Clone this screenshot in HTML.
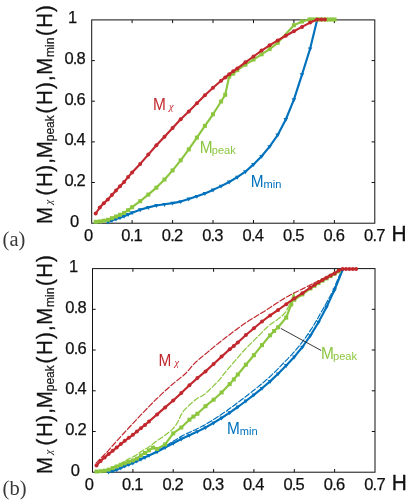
<!DOCTYPE html>
<html><head><meta charset="utf-8"><title>Magnetization curves</title>
<style>
html,body{margin:0;padding:0;background:#fff;}
body{width:409px;height:501px;overflow:hidden;font-family:"Liberation Sans",sans-serif;}
svg{display:block;will-change:transform;}
text{font-family:"Liberation Sans",sans-serif;fill:#111;}
.tk{font-size:16.5px;letter-spacing:-0.8px;stroke:#111;stroke-width:0.25px;}
.hh{font-size:22px;stroke:#111;stroke-width:0.3px;}
.yl{font-size:22px;stroke:#111;stroke-width:0.35px;}
.sub{font-size:12px;stroke:#111;stroke-width:0.2px;}
.cl{font-size:17px;}
.cs{font-size:11.3px;}
.chi{font-family:"Liberation Serif",serif;font-style:italic;}
.pl{font-family:"Liberation Serif",serif;font-size:20.5px;fill:#383838;}
</style></head>
<body>
<svg width="409" height="501" viewBox="0 0 409 501">
<rect width="409" height="501" fill="#fff"/>
<rect x="91.7" y="19.9" width="283.1" height="203.3" fill="none" stroke="#111" stroke-width="1"/>
<path d="M132.1 223.2v-3.2M132.1 19.9v3.2M172.6 223.2v-3.2M172.6 19.9v3.2M213.0 223.2v-3.2M213.0 19.9v3.2M253.5 223.2v-3.2M253.5 19.9v3.2M293.9 223.2v-3.2M293.9 19.9v3.2M334.4 223.2v-3.2M334.4 19.9v3.2M91.7 182.5h3.2M374.8 182.5h-3.2M91.7 141.9h3.2M374.8 141.9h-3.2M91.7 101.2h3.2M374.8 101.2h-3.2M91.7 60.6h3.2M374.8 60.6h-3.2" stroke="#111" stroke-width="1" fill="none"/>
<rect x="92.5" y="268.6" width="282.5" height="203.6" fill="none" stroke="#111" stroke-width="1"/>
<path d="M132.9 472.2v-3.2M132.9 268.6v3.2M173.2 472.2v-3.2M173.2 268.6v3.2M213.6 472.2v-3.2M213.6 268.6v3.2M253.9 472.2v-3.2M253.9 268.6v3.2M294.3 472.2v-3.2M294.3 268.6v3.2M334.6 472.2v-3.2M334.6 268.6v3.2M92.5 431.5h3.2M375.0 431.5h-3.2M92.5 390.8h3.2M375.0 390.8h-3.2M92.5 350.0h3.2M375.0 350.0h-3.2M92.5 309.3h3.2M375.0 309.3h-3.2" stroke="#111" stroke-width="1" fill="none"/>
<polyline points="107.9,222.1 111.9,220.6 116.0,219.1 120.0,217.7 124.1,216.2 128.1,214.4 132.1,212.7 140.2,209.7 148.3,207.4 156.4,205.5 164.5,204.3 172.6,203.1 180.7,201.6 188.8,198.9 196.9,196.3 204.9,193.4 213.0,189.9 221.1,186.1 229.2,182.0 237.3,177.1 245.4,171.7 253.5,164.4 261.6,156.3 269.6,146.6 277.7,135.0 285.8,119.5 293.9,99.7 302.0,74.6 310.1,48.8 317.1,19.9" fill="none" stroke="#0071bc" stroke-width="2.15" stroke-linejoin="round" stroke-linecap="round"/>
<path d="M105.6 220.7L110.2 220.7L107.9 224.6Z" fill="#0071bc"/><path d="M109.6 219.2L114.2 219.2L111.9 223.1Z" fill="#0071bc"/><path d="M113.7 217.7L118.3 217.7L116.0 221.6Z" fill="#0071bc"/><path d="M117.7 216.3L122.3 216.3L120.0 220.2Z" fill="#0071bc"/><path d="M121.8 214.8L126.4 214.8L124.1 218.7Z" fill="#0071bc"/><path d="M125.8 213.0L130.4 213.0L128.1 216.9Z" fill="#0071bc"/><path d="M129.8 211.3L134.4 211.3L132.1 215.2Z" fill="#0071bc"/><path d="M137.9 208.3L142.5 208.3L140.2 212.2Z" fill="#0071bc"/><path d="M146.0 206.0L150.6 206.0L148.3 209.9Z" fill="#0071bc"/><path d="M154.1 204.1L158.7 204.1L156.4 208.1Z" fill="#0071bc"/><path d="M162.2 203.0L166.8 203.0L164.5 206.9Z" fill="#0071bc"/><path d="M170.3 201.7L174.9 201.7L172.6 205.6Z" fill="#0071bc"/><path d="M178.4 200.2L183.0 200.2L180.7 204.1Z" fill="#0071bc"/><path d="M186.5 197.6L191.1 197.6L188.8 201.5Z" fill="#0071bc"/><path d="M194.6 194.9L199.2 194.9L196.9 198.8Z" fill="#0071bc"/><path d="M202.6 192.0L207.2 192.0L204.9 195.9Z" fill="#0071bc"/><path d="M210.7 188.5L215.3 188.5L213.0 192.4Z" fill="#0071bc"/><path d="M218.8 184.7L223.4 184.7L221.1 188.6Z" fill="#0071bc"/><path d="M226.9 180.6L231.5 180.6L229.2 184.5Z" fill="#0071bc"/><path d="M235.0 175.7L239.6 175.7L237.3 179.7Z" fill="#0071bc"/><path d="M243.1 170.3L247.7 170.3L245.4 174.2Z" fill="#0071bc"/><path d="M251.2 163.0L255.8 163.0L253.5 166.9Z" fill="#0071bc"/><path d="M259.3 154.9L263.9 154.9L261.6 158.8Z" fill="#0071bc"/><path d="M267.3 145.2L271.9 145.2L269.6 149.1Z" fill="#0071bc"/><path d="M275.4 133.6L280.0 133.6L277.7 137.6Z" fill="#0071bc"/><path d="M283.5 118.1L288.1 118.1L285.8 122.0Z" fill="#0071bc"/><path d="M291.6 98.3L296.2 98.3L293.9 102.2Z" fill="#0071bc"/><path d="M299.7 73.2L304.3 73.2L302.0 77.1Z" fill="#0071bc"/><path d="M307.8 47.4L312.4 47.4L310.1 51.3Z" fill="#0071bc"/><path d="M314.8 18.5L319.4 18.5L317.1 22.4Z" fill="#0071bc"/>
<polyline points="95.7,221.8 99.8,221.4 103.8,220.7 107.9,219.8 111.9,218.2 116.0,216.5 120.0,214.8 124.1,212.9 128.1,210.2 132.1,207.2 140.2,201.2 148.3,194.6 156.4,187.6 164.5,179.5 172.6,170.4 180.7,160.3 188.8,149.4 196.9,137.6 204.9,125.9 213.0,114.3 221.1,101.5 225.2,94.8 229.2,76.6 233.2,73.7 237.3,70.2 245.4,64.7 253.5,59.6 261.6,54.3 269.6,49.1 277.7,42.8 293.9,25.2 302.0,21.5 309.4,19.5 312.2,19.5 315.0,19.5 317.8,19.5 320.6,19.5 323.4,19.5 326.2,19.5 329.0,19.5 331.8,19.5 334.6,19.5" fill="none" stroke="#8cc63f" stroke-width="2.15" stroke-linejoin="round" stroke-linecap="round"/>
<rect x="93.7" y="219.8" width="4.0" height="4.0" fill="#8cc63f"/><rect x="97.8" y="219.4" width="4.0" height="4.0" fill="#8cc63f"/><rect x="101.8" y="218.7" width="4.0" height="4.0" fill="#8cc63f"/><rect x="105.9" y="217.8" width="4.0" height="4.0" fill="#8cc63f"/><rect x="109.9" y="216.2" width="4.0" height="4.0" fill="#8cc63f"/><rect x="114.0" y="214.5" width="4.0" height="4.0" fill="#8cc63f"/><rect x="118.0" y="212.8" width="4.0" height="4.0" fill="#8cc63f"/><rect x="122.1" y="210.9" width="4.0" height="4.0" fill="#8cc63f"/><rect x="126.1" y="208.2" width="4.0" height="4.0" fill="#8cc63f"/><rect x="130.1" y="205.2" width="4.0" height="4.0" fill="#8cc63f"/><rect x="138.2" y="199.2" width="4.0" height="4.0" fill="#8cc63f"/><rect x="146.3" y="192.6" width="4.0" height="4.0" fill="#8cc63f"/><rect x="154.4" y="185.6" width="4.0" height="4.0" fill="#8cc63f"/><rect x="162.5" y="177.5" width="4.0" height="4.0" fill="#8cc63f"/><rect x="170.6" y="168.4" width="4.0" height="4.0" fill="#8cc63f"/><rect x="178.7" y="158.3" width="4.0" height="4.0" fill="#8cc63f"/><rect x="186.8" y="147.4" width="4.0" height="4.0" fill="#8cc63f"/><rect x="194.9" y="135.6" width="4.0" height="4.0" fill="#8cc63f"/><rect x="202.9" y="123.9" width="4.0" height="4.0" fill="#8cc63f"/><rect x="211.0" y="112.3" width="4.0" height="4.0" fill="#8cc63f"/><rect x="219.1" y="99.5" width="4.0" height="4.0" fill="#8cc63f"/><rect x="223.2" y="92.8" width="4.0" height="4.0" fill="#8cc63f"/><rect x="227.2" y="74.6" width="4.0" height="4.0" fill="#8cc63f"/><rect x="231.2" y="71.7" width="4.0" height="4.0" fill="#8cc63f"/><rect x="235.3" y="68.2" width="4.0" height="4.0" fill="#8cc63f"/><rect x="243.4" y="62.7" width="4.0" height="4.0" fill="#8cc63f"/><rect x="251.5" y="57.6" width="4.0" height="4.0" fill="#8cc63f"/><rect x="259.6" y="52.3" width="4.0" height="4.0" fill="#8cc63f"/><rect x="267.6" y="47.1" width="4.0" height="4.0" fill="#8cc63f"/><rect x="275.7" y="40.8" width="4.0" height="4.0" fill="#8cc63f"/><rect x="291.9" y="23.2" width="4.0" height="4.0" fill="#8cc63f"/><rect x="300.0" y="19.5" width="4.0" height="4.0" fill="#8cc63f"/><rect x="307.4" y="17.5" width="4.0" height="4.0" fill="#8cc63f"/><rect x="310.2" y="17.5" width="4.0" height="4.0" fill="#8cc63f"/><rect x="313.0" y="17.5" width="4.0" height="4.0" fill="#8cc63f"/><rect x="315.8" y="17.5" width="4.0" height="4.0" fill="#8cc63f"/><rect x="318.6" y="17.5" width="4.0" height="4.0" fill="#8cc63f"/><rect x="321.4" y="17.5" width="4.0" height="4.0" fill="#8cc63f"/><rect x="324.2" y="17.5" width="4.0" height="4.0" fill="#8cc63f"/><rect x="327.0" y="17.5" width="4.0" height="4.0" fill="#8cc63f"/><rect x="329.8" y="17.5" width="4.0" height="4.0" fill="#8cc63f"/><rect x="332.6" y="17.5" width="4.0" height="4.0" fill="#8cc63f"/>
<polyline points="95.7,213.5 99.8,207.5 103.8,203.3 107.9,199.4 111.9,195.0 116.0,190.6 120.0,186.3 124.1,181.9 128.1,177.1 132.1,172.4 140.2,163.9 148.3,154.6 156.4,145.2 164.5,136.7 172.6,127.9 180.7,119.2 188.8,111.4 196.9,103.3 204.9,95.2 213.0,87.7 221.1,80.8 225.2,77.4 229.2,74.2 233.2,71.3 237.3,68.4 245.4,62.3 253.5,56.5 261.6,50.6 269.6,45.3 277.7,40.4 285.8,35.8 293.9,31.3 302.0,26.9 310.1,22.6 317.1,19.5 321.3,19.5 325.0,19.5" fill="none" stroke="#c1272d" stroke-width="2.15" stroke-linejoin="round" stroke-linecap="round"/>
<circle cx="95.7" cy="213.5" r="2.0" fill="#c1272d"/><circle cx="99.8" cy="207.5" r="2.0" fill="#c1272d"/><circle cx="103.8" cy="203.3" r="2.0" fill="#c1272d"/><circle cx="107.9" cy="199.4" r="2.0" fill="#c1272d"/><circle cx="111.9" cy="195.0" r="2.0" fill="#c1272d"/><circle cx="116.0" cy="190.6" r="2.0" fill="#c1272d"/><circle cx="120.0" cy="186.3" r="2.0" fill="#c1272d"/><circle cx="124.1" cy="181.9" r="2.0" fill="#c1272d"/><circle cx="128.1" cy="177.1" r="2.0" fill="#c1272d"/><circle cx="132.1" cy="172.4" r="2.0" fill="#c1272d"/><circle cx="140.2" cy="163.9" r="2.0" fill="#c1272d"/><circle cx="148.3" cy="154.6" r="2.0" fill="#c1272d"/><circle cx="156.4" cy="145.2" r="2.0" fill="#c1272d"/><circle cx="164.5" cy="136.7" r="2.0" fill="#c1272d"/><circle cx="172.6" cy="127.9" r="2.0" fill="#c1272d"/><circle cx="180.7" cy="119.2" r="2.0" fill="#c1272d"/><circle cx="188.8" cy="111.4" r="2.0" fill="#c1272d"/><circle cx="196.9" cy="103.3" r="2.0" fill="#c1272d"/><circle cx="204.9" cy="95.2" r="2.0" fill="#c1272d"/><circle cx="213.0" cy="87.7" r="2.0" fill="#c1272d"/><circle cx="221.1" cy="80.8" r="2.0" fill="#c1272d"/><circle cx="225.2" cy="77.4" r="2.0" fill="#c1272d"/><circle cx="229.2" cy="74.2" r="2.0" fill="#c1272d"/><circle cx="233.2" cy="71.3" r="2.0" fill="#c1272d"/><circle cx="237.3" cy="68.4" r="2.0" fill="#c1272d"/><circle cx="245.4" cy="62.3" r="2.0" fill="#c1272d"/><circle cx="253.5" cy="56.5" r="2.0" fill="#c1272d"/><circle cx="261.6" cy="50.6" r="2.0" fill="#c1272d"/><circle cx="269.6" cy="45.3" r="2.0" fill="#c1272d"/><circle cx="277.7" cy="40.4" r="2.0" fill="#c1272d"/><circle cx="285.8" cy="35.8" r="2.0" fill="#c1272d"/><circle cx="293.9" cy="31.3" r="2.0" fill="#c1272d"/><circle cx="302.0" cy="26.9" r="2.0" fill="#c1272d"/><circle cx="310.1" cy="22.6" r="2.0" fill="#c1272d"/><circle cx="317.1" cy="19.5" r="2.0" fill="#c1272d"/><circle cx="321.3" cy="19.5" r="2.0" fill="#c1272d"/><circle cx="325.0" cy="19.5" r="2.0" fill="#c1272d"/>
<polyline points="112.0,467.5 115.0,466.1 118.0,464.7 121.0,463.2 124.0,461.6 127.0,459.9 130.0,458.3 133.0,456.9 136.0,455.3 139.0,453.1 142.0,451.1 145.0,449.3 148.0,447.5 151.0,445.4 154.0,443.1 157.0,440.8 160.0,438.7 163.0,436.7 166.0,434.5 169.0,432.2 172.0,429.6 175.0,426.5 178.0,421.6 181.0,415.0 184.0,410.4 187.0,407.3 190.0,404.5 193.0,401.8 196.0,399.3 199.0,397.3 202.0,396.0 205.0,394.0 208.0,391.2 211.0,388.4 214.0,385.3 217.0,382.4 220.0,379.2 223.0,375.2 226.0,371.4 229.0,367.9 232.0,364.3 235.0,360.8 238.0,357.3 241.0,353.8 244.0,350.5 247.0,347.4 250.0,344.3 253.0,341.3 256.0,338.3 259.0,335.3 262.0,332.3 265.0,329.2 268.0,326.3 271.0,323.9 274.0,321.9 277.0,319.9 280.0,317.5 283.0,315.0 286.0,311.6 289.0,305.8 292.0,298.5 293.9,293.4" fill="none" stroke="#8cc63f" stroke-width="1.2" stroke-linejoin="round" stroke-linecap="round" stroke-dasharray="5.5 2.2"/>
<polyline points="96.1,463.2 99.1,460.0 102.1,456.9 105.1,453.8 108.1,450.8 111.1,447.4 114.1,444.0 117.1,440.6 120.1,437.3 123.1,434.0 126.1,430.8 129.1,427.5 132.1,424.3 135.1,421.1 138.1,417.9 141.1,414.7 144.1,411.6 147.1,408.5 150.1,405.4 153.1,402.3 156.1,399.3 159.1,396.5 162.1,393.6 165.1,390.9 168.1,388.2 171.1,385.5 174.1,382.9 177.1,380.5 180.1,378.1 183.1,375.7 186.1,373.0 189.1,369.6 192.1,365.9 195.1,362.8 198.1,360.1 201.1,357.5 204.1,355.1 207.1,352.6 210.1,350.1 213.1,347.6 216.1,345.1 219.1,342.7 222.1,340.4 225.1,338.0 228.1,335.7 231.1,333.4 234.1,331.2 237.1,329.0 240.1,326.8 243.1,324.6 246.1,322.6 249.1,320.6 252.1,318.7 255.1,316.9 258.1,315.1 261.1,313.2 264.1,311.4 267.1,309.5 270.1,307.6 273.1,305.6 276.1,303.6 279.1,301.6 282.1,299.7 285.1,297.9 288.1,296.2 291.1,294.5 294.1,293.0 297.1,291.5 300.1,290.1 303.1,288.6 306.1,287.1 309.1,285.6 312.1,284.0 315.1,282.5 318.1,281.0 321.1,279.5 324.1,278.0 327.1,276.5 330.1,274.9 333.1,273.4 336.1,271.8 339.1,270.2 341.3,269.0" fill="none" stroke="#c1272d" stroke-width="1.2" stroke-linejoin="round" stroke-linecap="round" stroke-dasharray="5.5 2.2"/>
<polyline points="108.6,471.9 112.7,471.0 116.7,469.7 120.8,467.9 124.8,466.1 128.8,464.5 132.9,462.9 136.9,461.1 140.9,459.2 145.0,457.3 149.0,455.5 157.1,451.7 165.1,447.5 173.2,443.2 181.3,439.0 189.4,435.3 197.4,431.6 205.5,427.5 213.6,422.9 221.6,418.0 229.7,412.7 237.8,407.0 245.9,401.0 253.9,394.8 262.0,388.3 270.1,381.4 278.1,373.8 286.2,365.5 294.3,356.9 302.4,347.0 310.4,335.6 318.5,322.2 326.6,306.9 334.6,289.9 342.6,269.8" fill="none" stroke="#0071bc" stroke-width="2.15" stroke-linejoin="round" stroke-linecap="round"/>
<path d="M106.3 470.6L110.9 470.6L108.6 474.5Z" fill="#0071bc"/><path d="M110.4 469.6L115.0 469.6L112.7 473.5Z" fill="#0071bc"/><path d="M114.4 468.3L119.0 468.3L116.7 472.2Z" fill="#0071bc"/><path d="M118.5 466.6L123.0 466.6L120.8 470.5Z" fill="#0071bc"/><path d="M122.5 464.7L127.1 464.7L124.8 468.6Z" fill="#0071bc"/><path d="M126.5 463.1L131.1 463.1L128.8 467.0Z" fill="#0071bc"/><path d="M130.6 461.5L135.2 461.5L132.9 465.4Z" fill="#0071bc"/><path d="M134.6 459.7L139.2 459.7L136.9 463.6Z" fill="#0071bc"/><path d="M138.6 457.8L143.2 457.8L140.9 461.7Z" fill="#0071bc"/><path d="M142.7 455.9L147.3 455.9L145.0 459.9Z" fill="#0071bc"/><path d="M146.7 454.1L151.3 454.1L149.0 458.0Z" fill="#0071bc"/><path d="M154.8 450.3L159.4 450.3L157.1 454.2Z" fill="#0071bc"/><path d="M162.8 446.1L167.4 446.1L165.1 450.0Z" fill="#0071bc"/><path d="M170.9 441.9L175.5 441.9L173.2 445.8Z" fill="#0071bc"/><path d="M179.0 437.6L183.6 437.6L181.3 441.5Z" fill="#0071bc"/><path d="M187.1 433.9L191.7 433.9L189.4 437.8Z" fill="#0071bc"/><path d="M195.1 430.2L199.7 430.2L197.4 434.1Z" fill="#0071bc"/><path d="M203.2 426.2L207.8 426.2L205.5 430.1Z" fill="#0071bc"/><path d="M211.3 421.5L215.9 421.5L213.6 425.4Z" fill="#0071bc"/><path d="M219.3 416.6L223.9 416.6L221.6 420.5Z" fill="#0071bc"/><path d="M227.4 411.3L232.0 411.3L229.7 415.2Z" fill="#0071bc"/><path d="M235.5 405.6L240.1 405.6L237.8 409.5Z" fill="#0071bc"/><path d="M243.6 399.6L248.2 399.6L245.9 403.5Z" fill="#0071bc"/><path d="M251.6 393.4L256.2 393.4L253.9 397.3Z" fill="#0071bc"/><path d="M259.7 386.9L264.3 386.9L262.0 390.8Z" fill="#0071bc"/><path d="M267.8 380.0L272.4 380.0L270.1 383.9Z" fill="#0071bc"/><path d="M275.8 372.4L280.4 372.4L278.1 376.3Z" fill="#0071bc"/><path d="M283.9 364.1L288.5 364.1L286.2 368.0Z" fill="#0071bc"/><path d="M292.0 355.5L296.6 355.5L294.3 359.4Z" fill="#0071bc"/><path d="M300.1 345.7L304.7 345.7L302.4 349.6Z" fill="#0071bc"/><path d="M308.1 334.2L312.7 334.2L310.4 338.1Z" fill="#0071bc"/><path d="M316.2 320.8L320.8 320.8L318.5 324.7Z" fill="#0071bc"/><path d="M324.3 305.5L328.9 305.5L326.6 309.5Z" fill="#0071bc"/><path d="M332.3 288.5L336.9 288.5L334.6 292.4Z" fill="#0071bc"/><path d="M340.3 268.4L344.9 268.4L342.6 272.3Z" fill="#0071bc"/>
<polyline points="146.3,456.7 148.3,455.8 150.3,454.8 152.2,453.8 154.2,452.8 156.1,451.7 158.0,450.6 160.0,449.4 161.9,448.2 163.8,447.1 165.8,445.9 167.7,444.7 169.6,443.5 171.6,442.3 173.5,441.1 175.4,439.9 177.4,438.7 179.3,437.5 181.3,436.4 183.3,435.3 185.3,434.3 187.3,433.4 189.2,432.5 191.2,431.6 193.2,430.6 195.2,429.7 197.2,428.7 199.1,427.8 201.1,426.8 203.0,425.7 205.0,424.7 206.9,423.5 208.9,422.4 210.8,421.2 212.8,420.0 214.8,418.7 216.7,417.5 218.7,416.2 220.6,414.9 222.6,413.6 224.5,412.3 226.5,411.0 228.4,409.6 230.4,408.1 232.3,406.7 234.3,405.2 236.2,403.7 238.2,402.2 240.2,400.8 242.1,399.3 244.1,397.8 246.1,396.3 248.1,394.7 250.1,393.2 252.1,391.6 254.1,390.1 256.0,388.5 258.0,386.9 260.0,385.2 262.0,383.6 264.0,381.9 265.9,380.2 267.9,378.5 269.9,376.7 271.8,374.9 273.8,373.0 275.7,371.1 277.7,369.1 279.7,367.0 281.7,364.9 283.7,362.9 285.7,360.8 287.7,358.8 289.7,356.7 291.7,354.6 293.7,352.4 295.7,350.1 297.8,347.7 299.8,345.2 301.8,342.6 303.8,340.0 305.9,337.2 307.9,334.2 309.9,331.2 312.0,328.0 314.0,324.8 316.0,321.3 318.1,317.7 320.1,314.0 322.3,310.3 324.5,306.5 326.6,302.6 328.8,298.6 331.0,294.6 333.2,290.3 335.4,285.1 337.6,279.7 339.8,274.8 342.0,270.3" fill="none" stroke="#0071bc" stroke-width="1.2" stroke-linejoin="round" stroke-linecap="round" stroke-dasharray="5.5 2.2"/>
<polyline points="96.5,471.5 100.6,471.2 104.6,470.7 108.6,469.6 112.7,468.1 116.7,466.5 120.8,464.8 124.8,463.3 128.8,461.8 132.9,460.4 136.9,458.6 140.9,455.4 145.0,453.0 149.0,450.3 153.0,447.6 157.1,449.0 165.1,444.4 173.2,433.4 181.3,427.5 189.4,419.7 193.4,416.6 197.4,413.8 205.5,406.2 213.6,399.7 221.6,392.5 229.7,384.1 233.8,379.4 237.8,374.5 245.9,364.7 253.9,355.2 262.0,345.1 270.1,335.3 274.1,331.0 278.1,327.3 286.2,317.6 291.3,304.4 293.7,294.8 294.3,299.8 302.4,294.4 310.4,288.5 314.5,285.8 318.5,283.1 322.5,280.7 326.6,278.4 330.6,276.1 334.6,273.8 338.7,271.4" fill="none" stroke="#8cc63f" stroke-width="2.15" stroke-linejoin="round" stroke-linecap="round"/>
<rect x="94.5" y="469.5" width="4.0" height="4.0" fill="#8cc63f"/><rect x="98.6" y="469.2" width="4.0" height="4.0" fill="#8cc63f"/><rect x="102.6" y="468.7" width="4.0" height="4.0" fill="#8cc63f"/><rect x="106.6" y="467.6" width="4.0" height="4.0" fill="#8cc63f"/><rect x="110.7" y="466.1" width="4.0" height="4.0" fill="#8cc63f"/><rect x="114.7" y="464.5" width="4.0" height="4.0" fill="#8cc63f"/><rect x="118.8" y="462.8" width="4.0" height="4.0" fill="#8cc63f"/><rect x="122.8" y="461.3" width="4.0" height="4.0" fill="#8cc63f"/><rect x="126.8" y="459.8" width="4.0" height="4.0" fill="#8cc63f"/><rect x="130.9" y="458.4" width="4.0" height="4.0" fill="#8cc63f"/><rect x="134.9" y="456.6" width="4.0" height="4.0" fill="#8cc63f"/><rect x="138.9" y="453.4" width="4.0" height="4.0" fill="#8cc63f"/><rect x="143.0" y="451.0" width="4.0" height="4.0" fill="#8cc63f"/><rect x="147.0" y="448.3" width="4.0" height="4.0" fill="#8cc63f"/><rect x="151.0" y="445.6" width="4.0" height="4.0" fill="#8cc63f"/><rect x="155.1" y="447.0" width="4.0" height="4.0" fill="#8cc63f"/><rect x="163.1" y="442.4" width="4.0" height="4.0" fill="#8cc63f"/><rect x="171.2" y="431.4" width="4.0" height="4.0" fill="#8cc63f"/><rect x="179.3" y="425.5" width="4.0" height="4.0" fill="#8cc63f"/><rect x="187.4" y="417.7" width="4.0" height="4.0" fill="#8cc63f"/><rect x="191.4" y="414.6" width="4.0" height="4.0" fill="#8cc63f"/><rect x="195.4" y="411.8" width="4.0" height="4.0" fill="#8cc63f"/><rect x="203.5" y="404.2" width="4.0" height="4.0" fill="#8cc63f"/><rect x="211.6" y="397.7" width="4.0" height="4.0" fill="#8cc63f"/><rect x="219.6" y="390.5" width="4.0" height="4.0" fill="#8cc63f"/><rect x="227.7" y="382.1" width="4.0" height="4.0" fill="#8cc63f"/><rect x="231.8" y="377.4" width="4.0" height="4.0" fill="#8cc63f"/><rect x="235.8" y="372.5" width="4.0" height="4.0" fill="#8cc63f"/><rect x="243.9" y="362.7" width="4.0" height="4.0" fill="#8cc63f"/><rect x="251.9" y="353.2" width="4.0" height="4.0" fill="#8cc63f"/><rect x="260.0" y="343.1" width="4.0" height="4.0" fill="#8cc63f"/><rect x="268.1" y="333.3" width="4.0" height="4.0" fill="#8cc63f"/><rect x="272.1" y="329.0" width="4.0" height="4.0" fill="#8cc63f"/><rect x="276.1" y="325.3" width="4.0" height="4.0" fill="#8cc63f"/><rect x="284.2" y="315.6" width="4.0" height="4.0" fill="#8cc63f"/><rect x="289.3" y="302.4" width="4.0" height="4.0" fill="#8cc63f"/><rect x="292.3" y="297.8" width="4.0" height="4.0" fill="#8cc63f"/><rect x="300.4" y="292.4" width="4.0" height="4.0" fill="#8cc63f"/><rect x="308.4" y="286.5" width="4.0" height="4.0" fill="#8cc63f"/><rect x="312.5" y="283.8" width="4.0" height="4.0" fill="#8cc63f"/><rect x="316.5" y="281.1" width="4.0" height="4.0" fill="#8cc63f"/><rect x="320.5" y="278.7" width="4.0" height="4.0" fill="#8cc63f"/><rect x="324.6" y="276.4" width="4.0" height="4.0" fill="#8cc63f"/><rect x="328.6" y="274.1" width="4.0" height="4.0" fill="#8cc63f"/><rect x="332.6" y="271.8" width="4.0" height="4.0" fill="#8cc63f"/><rect x="336.7" y="269.4" width="4.0" height="4.0" fill="#8cc63f"/>
<polyline points="96.5,465.5 100.6,460.9 104.6,457.4 108.6,454.1 112.7,450.8 116.7,447.5 120.8,444.1 124.8,440.8 128.8,437.8 132.9,434.8 136.9,431.5 140.9,428.2 145.0,424.9 149.0,421.5 157.1,414.4 165.1,407.4 173.2,400.5 181.3,393.1 189.4,385.2 197.4,378.1 205.5,371.4 213.6,364.0 221.6,356.6 229.7,349.3 233.8,345.9 237.8,342.5 245.9,335.0 253.9,328.3 262.0,321.5 270.1,315.4 278.1,310.0 286.2,304.2 294.3,298.4 302.4,293.2 310.4,287.7 314.5,285.0 318.5,282.3 322.5,280.0 326.6,277.8 330.6,275.6 334.6,273.4 338.7,270.6 342.6,269.0 346.0,269.0 349.4,269.0 352.8,269.0 356.1,269.0" fill="none" stroke="#c1272d" stroke-width="2.15" stroke-linejoin="round" stroke-linecap="round"/>
<circle cx="96.5" cy="465.5" r="2.0" fill="#c1272d"/><circle cx="100.6" cy="460.9" r="2.0" fill="#c1272d"/><circle cx="104.6" cy="457.4" r="2.0" fill="#c1272d"/><circle cx="108.6" cy="454.1" r="2.0" fill="#c1272d"/><circle cx="112.7" cy="450.8" r="2.0" fill="#c1272d"/><circle cx="116.7" cy="447.5" r="2.0" fill="#c1272d"/><circle cx="120.8" cy="444.1" r="2.0" fill="#c1272d"/><circle cx="124.8" cy="440.8" r="2.0" fill="#c1272d"/><circle cx="128.8" cy="437.8" r="2.0" fill="#c1272d"/><circle cx="132.9" cy="434.8" r="2.0" fill="#c1272d"/><circle cx="136.9" cy="431.5" r="2.0" fill="#c1272d"/><circle cx="140.9" cy="428.2" r="2.0" fill="#c1272d"/><circle cx="145.0" cy="424.9" r="2.0" fill="#c1272d"/><circle cx="149.0" cy="421.5" r="2.0" fill="#c1272d"/><circle cx="157.1" cy="414.4" r="2.0" fill="#c1272d"/><circle cx="165.1" cy="407.4" r="2.0" fill="#c1272d"/><circle cx="173.2" cy="400.5" r="2.0" fill="#c1272d"/><circle cx="181.3" cy="393.1" r="2.0" fill="#c1272d"/><circle cx="189.4" cy="385.2" r="2.0" fill="#c1272d"/><circle cx="197.4" cy="378.1" r="2.0" fill="#c1272d"/><circle cx="205.5" cy="371.4" r="2.0" fill="#c1272d"/><circle cx="213.6" cy="364.0" r="2.0" fill="#c1272d"/><circle cx="221.6" cy="356.6" r="2.0" fill="#c1272d"/><circle cx="229.7" cy="349.3" r="2.0" fill="#c1272d"/><circle cx="233.8" cy="345.9" r="2.0" fill="#c1272d"/><circle cx="237.8" cy="342.5" r="2.0" fill="#c1272d"/><circle cx="245.9" cy="335.0" r="2.0" fill="#c1272d"/><circle cx="253.9" cy="328.3" r="2.0" fill="#c1272d"/><circle cx="262.0" cy="321.5" r="2.0" fill="#c1272d"/><circle cx="270.1" cy="315.4" r="2.0" fill="#c1272d"/><circle cx="278.1" cy="310.0" r="2.0" fill="#c1272d"/><circle cx="286.2" cy="304.2" r="2.0" fill="#c1272d"/><circle cx="294.3" cy="298.4" r="2.0" fill="#c1272d"/><circle cx="302.4" cy="293.2" r="2.0" fill="#c1272d"/><circle cx="310.4" cy="287.7" r="2.0" fill="#c1272d"/><circle cx="314.5" cy="285.0" r="2.0" fill="#c1272d"/><circle cx="318.5" cy="282.3" r="2.0" fill="#c1272d"/><circle cx="322.5" cy="280.0" r="2.0" fill="#c1272d"/><circle cx="326.6" cy="277.8" r="2.0" fill="#c1272d"/><circle cx="330.6" cy="275.6" r="2.0" fill="#c1272d"/><circle cx="334.6" cy="273.4" r="2.0" fill="#c1272d"/><circle cx="338.7" cy="270.6" r="2.0" fill="#c1272d"/><circle cx="342.6" cy="269.0" r="2.0" fill="#c1272d"/><circle cx="346.0" cy="269.0" r="2.0" fill="#c1272d"/><circle cx="349.4" cy="269.0" r="2.0" fill="#c1272d"/><circle cx="352.8" cy="269.0" r="2.0" fill="#c1272d"/><circle cx="356.1" cy="269.0" r="2.0" fill="#c1272d"/>
<line x1="280.8" y1="328.4" x2="321.2" y2="350.5" stroke="#222" stroke-width="0.9"/>
<text x="83.91" y="240.6" class="tk">0</text>
<text x="121.36" y="240.6" class="tk">0.1</text>
<text x="161.81" y="240.6" class="tk">0.2</text>
<text x="202.19" y="240.6" class="tk">0.3</text>
<text x="242.52" y="240.6" class="tk">0.4</text>
<text x="283.07" y="240.6" class="tk">0.5</text>
<text x="323.53" y="240.6" class="tk">0.6</text>
<text x="364.02" y="240.6" class="tk">0.7</text>
<text x="69.96" y="226.7" class="tk">0</text>
<text x="64.46" y="186.0" class="tk">0.2</text>
<text x="64.46" y="145.4" class="tk">0.4</text>
<text x="64.46" y="104.7" class="tk">0.6</text>
<text x="64.46" y="64.1" class="tk">0.8</text>
<text x="68.09" y="23.4" class="tk">1</text>
<text transform="translate(391.6,240.5) scale(0.95,1)" class="hh">H</text>
<text x="84.71" y="489.6" class="tk">0</text>
<text x="122.07" y="489.6" class="tk">0.1</text>
<text x="162.44" y="489.6" class="tk">0.2</text>
<text x="202.74" y="489.6" class="tk">0.3</text>
<text x="242.98" y="489.6" class="tk">0.4</text>
<text x="283.44" y="489.6" class="tk">0.5</text>
<text x="323.82" y="489.6" class="tk">0.6</text>
<text x="364.22" y="489.6" class="tk">0.7</text>
<text x="70.76" y="475.7" class="tk">0</text>
<text x="65.26" y="435.0" class="tk">0.2</text>
<text x="65.26" y="394.3" class="tk">0.4</text>
<text x="65.26" y="353.5" class="tk">0.6</text>
<text x="65.26" y="312.8" class="tk">0.8</text>
<text x="68.89" y="272.1" class="tk">1</text>
<text transform="translate(391.8,489.5) scale(0.95,1)" class="hh">H</text>
<g transform="translate(52.0,222.2) rotate(-90)">
<text transform="translate(-1.68,0) scale(0.93,1)" class="yl">M</text>
<text transform="translate(26.73,0) scale(0.93,1)" class="yl">(</text>
<text transform="translate(35.22,0) scale(0.93,1)" class="yl">H</text>
<text transform="translate(50.48,0) scale(0.93,1)" class="yl">)</text>
<text transform="translate(58.36,0) scale(0.93,1)" class="yl">,</text>
<text transform="translate(64.02,0) scale(0.93,1)" class="yl">M</text>
<text transform="translate(108.73,0) scale(0.93,1)" class="yl">(</text>
<text transform="translate(117.22,0) scale(0.93,1)" class="yl">H</text>
<text transform="translate(133.08,0) scale(0.93,1)" class="yl">)</text>
<text transform="translate(141.16,0) scale(0.93,1)" class="yl">,</text>
<text transform="translate(147.52,0) scale(0.93,1)" class="yl">M</text>
<text transform="translate(186.23,0) scale(0.93,1)" class="yl">(</text>
<text transform="translate(194.42,0) scale(0.93,1)" class="yl">H</text>
<text transform="translate(210.08,0) scale(0.93,1)" class="yl">)</text>
<text x="80.93" y="2.4" class="sub">peak</text>
<text x="165.21" y="2.4" class="sub">min</text>
<text x="17.72" y="-0.4" class="chi" style="font-size:11px">χ</text>
</g>
<g transform="translate(52.0,472.2) rotate(-90)">
<text transform="translate(-1.68,0) scale(0.93,1)" class="yl">M</text>
<text transform="translate(26.73,0) scale(0.93,1)" class="yl">(</text>
<text transform="translate(35.22,0) scale(0.93,1)" class="yl">H</text>
<text transform="translate(50.48,0) scale(0.93,1)" class="yl">)</text>
<text transform="translate(58.36,0) scale(0.93,1)" class="yl">,</text>
<text transform="translate(64.02,0) scale(0.93,1)" class="yl">M</text>
<text transform="translate(108.73,0) scale(0.93,1)" class="yl">(</text>
<text transform="translate(117.22,0) scale(0.93,1)" class="yl">H</text>
<text transform="translate(133.08,0) scale(0.93,1)" class="yl">)</text>
<text transform="translate(141.16,0) scale(0.93,1)" class="yl">,</text>
<text transform="translate(147.52,0) scale(0.93,1)" class="yl">M</text>
<text transform="translate(186.23,0) scale(0.93,1)" class="yl">(</text>
<text transform="translate(194.42,0) scale(0.93,1)" class="yl">H</text>
<text transform="translate(210.08,0) scale(0.93,1)" class="yl">)</text>
<text x="80.93" y="2.4" class="sub">peak</text>
<text x="165.21" y="2.4" class="sub">min</text>
<text x="17.72" y="-0.4" class="chi" style="font-size:11px">χ</text>
</g>
<text transform="translate(152.94,109.8) scale(0.906,1)" class="cl" style="fill:#c1272d">M</text><text x="169.02" y="110.3" class="chi" style="font-size:10.3px;fill:#c1272d">χ</text>
<text transform="translate(199.74,153.4) scale(0.906,1)" class="cl" style="fill:#8cc63f">M</text><text transform="translate(211.78,154.3) scale(0.98,1)" class="cs" style="fill:#8cc63f">peak</text>
<text transform="translate(250.74,186.9) scale(0.906,1)" class="cl" style="fill:#0071bc">M</text><text transform="translate(263.58,187.8) scale(0.98,1)" class="cs" style="fill:#0071bc">min</text>
<text transform="translate(158.44,365.5) scale(0.906,1)" class="cl" style="fill:#c1272d">M</text><text x="174.52" y="366.0" class="chi" style="font-size:10.3px;fill:#c1272d">χ</text>
<text transform="translate(320.94,358.7) scale(0.906,1)" class="cl" style="fill:#8cc63f">M</text><text transform="translate(332.98,359.6) scale(0.98,1)" class="cs" style="fill:#8cc63f">peak</text>
<text transform="translate(227.04,433.7) scale(0.906,1)" class="cl" style="fill:#0071bc">M</text><text transform="translate(239.78,434.6) scale(0.98,1)" class="cs" style="fill:#0071bc">min</text>
<text x="2.6" y="245.5" class="pl">(a)</text>
<text x="2.6" y="495.0" class="pl">(b)</text>
</svg>
</body></html>
